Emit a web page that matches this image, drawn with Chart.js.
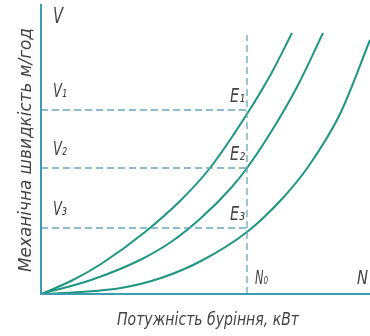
<!DOCTYPE html>
<html>
<head>
<meta charset="utf-8">
<script src="https://cdn.jsdelivr.net/npm/chart.js@4.4.1/dist/chart.umd.min.js"></script>
<style>
  html, body { margin: 0; padding: 0; background: #ffffff; }
  #wrap { width: 370px; height: 336px; }
</style>
</head>
<body>
<div id="wrap"><canvas id="chart" width="370" height="336"></canvas></div>
<script>
// Values (power on x, drilling speed on y, arbitrary units)
const curve1X = [0, 30, 60, 104, 140, 169, 206, 230, 251];
const curve1Y = [0, 13, 30, 62, 94, 126, 180, 220, 261];
const curve2X = [0, 50, 99, 130, 160, 190, 206, 230, 256, 282];
const curve2Y = [0, 14, 34, 52, 76, 106, 126, 162, 207, 261];
const curve3X = [0, 40, 80, 120, 160, 206, 240, 267, 299, 329];
const curve3Y = [0, 2, 6, 16, 33, 62, 94, 127, 180, 254];

const speedLevels = [184, 126, 66];
const speedLabels = ['V₁', 'V₂', 'V₃'];
const pointLabels = ['E₁', 'E₂', 'E₃'];
const nominalPower = 206;
const xMax = 329;
const yMax = 290;

const xTitle = 'Потужність буріння, кВт';
const yTitle = 'Механічна швидкість м/год';

const CURVE = '#1f9683';
const DASH = '#6aa6bd';
const AXIS = '#3d9cb0';
const TEXT = '#444444';
const FONT = '"DejaVu Sans ExtraLight", "DejaVu Sans Condensed", sans-serif';

const toPoints = (xs, ys) => xs.map((x, i) => ({ x: x, y: ys[i] }));

const curve = (xs, ys) => ({
    data: toPoints(xs, ys),
    borderColor: CURVE,
    borderWidth: 2,
    pointRadius: 0,
    cubicInterpolationMode: 'monotone',
    clip: false
});

const dashed = (pts) => ({
    data: pts,
    borderColor: DASH,
    borderWidth: 1.3,
    borderDash: [7, 4],
    pointRadius: 0,
    tension: 0,
    clip: false
});

const datasets = [];
speedLevels.forEach(v => datasets.push(dashed([{ x: 0, y: v }, { x: nominalPower, y: v }])));
datasets.push(dashed([{ x: nominalPower, y: 0 }, { x: nominalPower, y: 259 }]));
datasets.push(curve(curve1X, curve1Y));
datasets.push(curve(curve2X, curve2Y));
datasets.push(curve(curve3X, curve3Y));

// draws a string squeezed/stretched to a given width
const fitText = (ctx, text, x, y, width, size) => {
    ctx.save();
    ctx.font = 'italic ' + size + 'px ' + FONT;
    const w = ctx.measureText(text).width;
    ctx.translate(x, y);
    ctx.scale(width / w, 1);
    ctx.fillText(text, 0, 0);
    ctx.restore();
};

const annotations = {
    id: 'annotations',
    afterDatasetsDraw(chart) {
        const { ctx, scales: { x, y } } = chart;
        const x0 = x.getPixelForValue(0);
        const y0 = y.getPixelForValue(0);

        // axes
        ctx.save();
        ctx.strokeStyle = AXIS;
        ctx.lineWidth = 2;
        ctx.beginPath();
        ctx.moveTo(x0, y.getPixelForValue(yMax));
        ctx.lineTo(x0, y0);
        ctx.lineTo(x.getPixelForValue(xMax + 1), y0);
        ctx.stroke();
        ctx.restore();

        ctx.save();
        ctx.fillStyle = TEXT;
        ctx.textBaseline = 'alphabetic';
        ctx.textAlign = 'left';

        fitText(ctx, 'V', x0 + 12, 23, 10, 21);
        speedLevels.forEach((v, i) => {
            const py = y.getPixelForValue(v);
            fitText(ctx, speedLabels[i], x0 + 12, py - 13, 14, 20);
            fitText(ctx, pointLabels[i], x.getPixelForValue(nominalPower) - 17, py - 8, 15, 20);
        });
        fitText(ctx, 'N₀', x.getPixelForValue(nominalPower) + 8, y0 - 10, 13, 19);
        fitText(ctx, 'N', 357, y0 - 10, 11, 19);

        // axis titles
        fitText(ctx, xTitle, 117, 325, 182, 17);
        ctx.save();
        ctx.translate(31, 272);
        ctx.rotate(-Math.PI / 2);
        fitText(ctx, yTitle, 0, 0, 244, 17);
        ctx.restore();

        ctx.restore();
    }
};

new Chart(document.getElementById('chart').getContext('2d'), {
    type: 'line',
    data: { datasets: datasets },
    options: {
        responsive: false,
        animation: false,
        layout: { padding: { left: 41, right: 0, top: 4, bottom: 42 } },
        plugins: { legend: { display: false }, tooltip: { enabled: false } },
        scales: {
            x: { type: 'linear', min: 0, max: xMax, display: false },
            y: { type: 'linear', min: 0, max: yMax, display: false }
        }
    },
    plugins: [annotations]
});
</script>
</body>
</html>
